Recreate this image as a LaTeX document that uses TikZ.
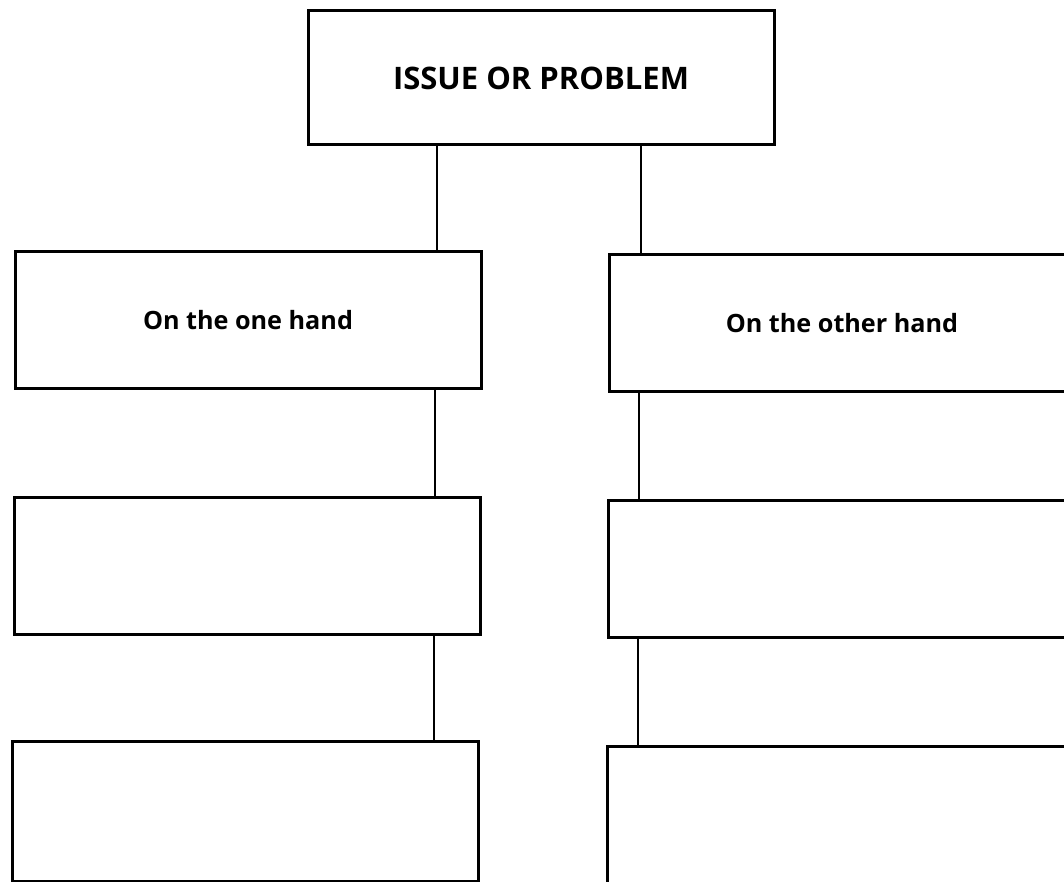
\documentclass[tikz,border=0pt]{standalone}
\usepackage{fontspec}
\setmainfont{Open Sans}
\usetikzlibrary{positioning}

\begin{document}
\begin{tikzpicture}[
    x=0.5pt, y=-0.5pt,
    box/.style={rectangle, draw=black, line width=1.5pt, fill=white,
                minimum width=233pt, minimum height=68.5pt,
                inner sep=0pt, outer sep=0pt, align=center},
    title/.style={font=\bfseries\fontsize{15.5}{18}\selectfont},
    label/.style={font=\bfseries\fontsize{12.6}{15}\selectfont},
    link/.style={draw=black, line width=1pt},
]
\useasboundingbox (0,0) rectangle (1064,882);

\node[box, title, minimum height=67pt] (issue) at (541,78) {ISSUE OR PROBLEM};

\node[box, label] (onehand)   at (248,320) {On the one hand};
\node[box, label] (otherhand) at (842,323) {On the other hand};
\node[box] (lefttwo)   at (247,566) {};
\node[box] (righttwo)  at (841,569) {};
\node[box, minimum height=70pt] (leftthree)  at (245,811) {};
\node[box, minimum height=70pt] (rightthree) at (840,816) {};

% connectors
\draw[link] ([xshift=-22pt]onehand.north east) -- ([xshift=-22pt]onehand.north east |- issue.south);
\draw[link] ([xshift=16pt]otherhand.north west) -- ([xshift=16pt]otherhand.north west |- issue.south);
\draw[link] ([xshift=-23pt]onehand.south east) -- ([xshift=-23pt]onehand.south east |- lefttwo.north);
\draw[link] ([xshift=-23pt]lefttwo.south east) -- ([xshift=-23pt]lefttwo.south east |- leftthree.north);
\draw[link] ([xshift=15pt]otherhand.south west) -- ([xshift=15pt]otherhand.south west |- righttwo.north);
\draw[link] ([xshift=15pt]righttwo.south west) -- ([xshift=15pt]righttwo.south west |- rightthree.north);
\end{tikzpicture}
\end{document}
